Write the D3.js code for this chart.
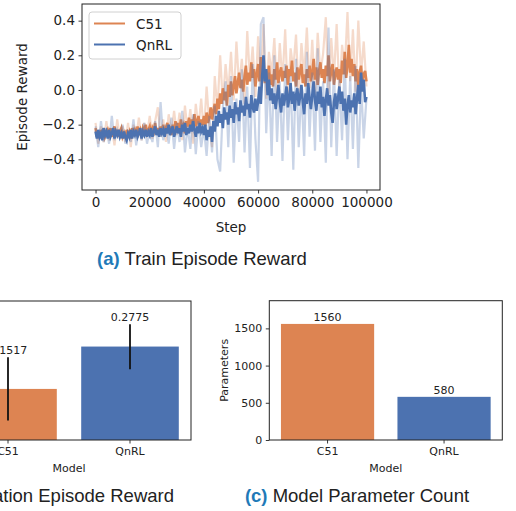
<!DOCTYPE html>
<html>
<head>
<meta charset="utf-8">
<script src="https://cdn.jsdelivr.net/npm/d3@7/dist/d3.min.js"></script>
<style>
  html, body { margin: 0; padding: 0; background: #fff; }
  svg { display: block; }
  .mpl { font-family: "DejaVu Sans", sans-serif; fill: #222; }
  .cap { font-family: "Liberation Sans", Arial, sans-serif; fill: #222; }
</style>
</head>
<body>
<svg id="fig" width="516" height="511"></svg>
<script>
// ---- (a) training curves: fine steps for the running line, coarse for raw episodes
const stepsFine = d3.range(0, 100001, 500);
const stepsRaw = d3.range(0, 100001, 1000);

const c51Line = [
  -0.22,-0.27,-0.24,-0.28,-0.23,-0.26,-0.22,-0.27,-0.25,-0.23,
  -0.26,-0.22,-0.27,-0.24,-0.21,-0.26,-0.23,-0.27,-0.24,-0.22,
  -0.27,-0.25,-0.28,-0.23,-0.26,-0.24,-0.28,-0.22,-0.25,-0.23,
  -0.26,-0.21,-0.25,-0.23,-0.27,-0.22,-0.24,-0.20,-0.25,-0.23,
  -0.21,-0.26,-0.22,-0.24,-0.19,-0.25,-0.22,-0.26,-0.21,-0.24,
  -0.20,-0.25,-0.22,-0.19,-0.24,-0.21,-0.26,-0.20,-0.23,-0.18,
  -0.23,-0.19,-0.24,-0.17,-0.22,-0.20,-0.25,-0.18,-0.21,-0.16,
  -0.22,-0.17,-0.20,-0.14,-0.21,-0.18,-0.15,-0.22,-0.17,-0.20,
  -0.15,-0.21,-0.13,-0.19,-0.16,-0.10,-0.17,-0.12,-0.08,-0.14,
  -0.05,-0.11,-0.02,-0.08,0.01,-0.06,-0.01,-0.09,0.03,-0.04,
  0.05,-0.03,0.02,0.08,-0.02,0.04,0.10,0.01,0.06,-0.01,
  0.08,0.14,0.03,0.10,0.05,0.16,0.07,0.12,0.02,0.09,
  0.15,0.05,0.19,0.08,0.13,0.04,0.11,0.06,0.14,0.03,
  0.09,0.02,0.12,0.06,0.16,0.04,0.10,0.13,0.05,0.11,
  0.07,0.14,0.03,0.12,0.08,0.17,0.05,0.10,0.02,0.13,
  0.06,0.11,0.15,0.04,0.09,0.02,0.12,0.07,0.14,0.05,
  0.10,0.18,0.06,0.13,0.03,0.11,0.16,0.07,0.12,0.04,
  0.14,0.08,0.20,0.05,0.11,0.15,0.03,0.09,0.13,0.06,
  0.12,0.04,0.17,0.09,0.22,0.07,0.14,0.26,0.10,0.18,
  0.08,0.15,0.05,0.12,0.03,0.10,0.14,0.04,0.09,0.11,
  0.05
];

const qnrlLine = [
  -0.24,-0.28,-0.23,-0.27,-0.25,-0.29,-0.22,-0.26,-0.24,-0.28,
  -0.23,-0.27,-0.25,-0.22,-0.28,-0.24,-0.26,-0.23,-0.27,-0.25,
  -0.28,-0.24,-0.27,-0.29,-0.25,-0.27,-0.23,-0.28,-0.24,-0.26,
  -0.23,-0.27,-0.25,-0.22,-0.28,-0.24,-0.26,-0.23,-0.27,-0.24,
  -0.26,-0.22,-0.27,-0.24,-0.21,-0.26,-0.23,-0.27,-0.22,-0.25,
  -0.23,-0.27,-0.22,-0.25,-0.20,-0.26,-0.23,-0.21,-0.27,-0.24,
  -0.21,-0.25,-0.22,-0.27,-0.20,-0.24,-0.19,-0.26,-0.22,-0.25,
  -0.20,-0.24,-0.18,-0.23,-0.27,-0.21,-0.25,-0.19,-0.24,-0.22,
  -0.26,-0.20,-0.29,-0.23,-0.27,-0.21,-0.30,-0.18,-0.24,-0.15,
  -0.21,-0.12,-0.19,-0.14,-0.22,-0.10,-0.17,-0.13,-0.20,-0.09,
  -0.16,-0.11,-0.19,-0.07,-0.14,-0.10,-0.18,-0.06,-0.13,-0.09,
  -0.15,-0.04,-0.11,-0.08,-0.16,-0.03,-0.10,-0.13,-0.05,-0.12,
  -0.07,0.02,-0.08,0.08,0.20,0.05,0.12,-0.03,0.06,-0.06,
  0.01,-0.08,-0.02,-0.11,-0.04,0.03,-0.07,-0.13,-0.02,-0.09,
  -0.04,0.02,-0.10,-0.05,0.04,-0.08,-0.01,-0.12,-0.03,0.01,
  -0.09,-0.04,0.03,-0.07,-0.14,-0.02,-0.08,0.04,-0.05,-0.11,
  -0.03,0.05,-0.06,-0.12,-0.01,-0.08,0.02,-0.10,-0.04,-0.15,
  -0.06,0.01,-0.09,-0.03,-0.13,-0.19,-0.07,-0.02,-0.11,-0.05,
  0.02,-0.08,-0.01,-0.12,-0.05,-0.20,-0.09,-0.03,-0.13,-0.06,
  -0.10,-0.02,-0.14,-0.05,0.03,-0.08,0.10,-0.01,0.06,-0.07,
  -0.04
];

const c51Raw = [
  -0.19,-0.31,-0.21,-0.30,-0.18,-0.29,-0.22,-0.32,-0.17,-0.28,
  -0.21,-0.30,-0.19,-0.33,-0.20,-0.27,-0.16,-0.29,-0.19,-0.26,
  -0.15,-0.28,-0.18,-0.10,-0.27,-0.17,-0.30,-0.14,-0.25,-0.12,
  -0.26,-0.13,-0.29,-0.09,-0.24,-0.11,-0.31,-0.08,-0.22,-0.05,
  -0.25,0.02,-0.20,-0.33,0.08,-0.12,0.20,-0.08,0.15,-0.02,
  0.22,-0.06,0.28,0.02,0.18,-0.08,0.34,0.06,0.25,-0.04,
  0.31,0.02,0.38,-0.05,0.22,0.09,0.30,-0.02,0.27,0.05,
  0.35,-0.06,0.24,0.12,0.32,-0.03,0.27,0.08,0.36,0.01,
  0.29,-0.04,0.33,0.10,0.21,0.42,-0.02,0.30,0.07,0.38,
  -0.03,0.26,0.12,0.45,0.05,0.35,-0.01,0.40,0.09,0.28,
  0.02
];

const qnrlRaw = [
  -0.21,-0.33,-0.18,-0.30,-0.22,-0.31,-0.15,-0.29,-0.23,-0.28,
  -0.20,-0.31,-0.24,-0.30,-0.17,-0.32,-0.22,-0.29,-0.19,-0.31,
  -0.23,-0.30,-0.18,-0.33,-0.07,-0.29,-0.20,-0.31,-0.16,-0.34,
  -0.19,-0.30,-0.12,-0.36,-0.21,-0.34,-0.14,-0.37,-0.18,-0.33,
  -0.22,-0.38,-0.15,-0.36,-0.09,-0.40,-0.47,-0.10,0.05,-0.33,
  0.08,-0.42,-0.05,-0.30,0.12,-0.36,0.02,-0.45,0.15,-0.28,
  -0.53,0.38,0.42,-0.25,0.10,-0.38,0.20,-0.30,0.05,-0.41,
  0.15,-0.29,0.08,-0.46,0.18,-0.33,0.02,-0.38,0.22,-0.27,
  0.10,-0.35,0.24,-0.30,0.05,-0.42,0.36,-0.33,0.12,-0.38,
  0.06,-0.29,0.18,-0.40,0.08,-0.34,0.14,-0.45,0.03,-0.28,
  -0.05
];

const xTicks = [0, 20000, 40000, 60000, 80000, 100000];
const yTicks = [-0.4, -0.2, 0.0, 0.2, 0.4];

// ---- (b) evaluation reward: means with confidence bounds
const models = ["C51", "QnRL"];
const evalMean = [0.1517, 0.2775];
const evalLow = [0.058, 0.210];
const evalHigh = [0.246, 0.344];

// ---- (c) parameter count
const paramCount = [1560, 580];
const paramTicks = [0, 500, 1000, 1500];

const colors = ["#DD8452", "#4C72B0"];

const svg = d3.select("#fig");
const ink = "#222";

// ===================== (a) line chart =====================
const A = { left: 82, right: 380, top: 4, bottom: 190 };
const xA = d3.scaleLinear().domain([-5000, 105000]).range([A.left, A.right]);
const yA = d3.scaleLinear().domain([-0.577, 0.496]).range([A.bottom, A.top]);

svg.append("clipPath").attr("id", "clipA").append("rect")
  .attr("x", A.left).attr("y", A.top).attr("width", A.right - A.left).attr("height", A.bottom - A.top);

const plotA = svg.append("g").attr("clip-path", "url(#clipA)");
const lineFine = d3.line().x((d, i) => xA(stepsFine[i])).y(d => yA(d));
const lineRaw = d3.line().x((d, i) => xA(stepsRaw[i])).y(d => yA(d));

plotA.append("path").datum(c51Raw).attr("d", lineRaw)
  .attr("fill", "none").attr("stroke", colors[0]).attr("stroke-opacity", 0.3).attr("stroke-width", 2.2);
plotA.append("path").datum(c51Line).attr("d", lineFine)
  .attr("fill", "none").attr("stroke", colors[0]).attr("stroke-width", 2.6);
plotA.append("path").datum(qnrlRaw).attr("d", lineRaw)
  .attr("fill", "none").attr("stroke", colors[1]).attr("stroke-opacity", 0.3).attr("stroke-width", 2.2);
plotA.append("path").datum(qnrlLine).attr("d", lineFine)
  .attr("fill", "none").attr("stroke", colors[1]).attr("stroke-width", 2.6);

const fmtMinus = s => s.replace("-", "\u2212");

const axXA = svg.append("g").attr("transform", `translate(0,${A.bottom})`)
  .call(d3.axisBottom(xA).tickValues(xTicks).tickFormat(d3.format("d")).tickSizeOuter(0).tickSize(3.5).tickPadding(3.5));
const axYA = svg.append("g").attr("transform", `translate(${A.left},0)`)
  .call(d3.axisLeft(yA).tickValues(yTicks).tickFormat(d => fmtMinus(d3.format(".1f")(d))).tickSizeOuter(0).tickSize(3.5).tickPadding(3.5));
[axXA, axYA].forEach(g => {
  g.select(".domain").remove();
  g.selectAll("line").attr("stroke", ink).attr("stroke-width", 0.9);
  g.selectAll("text").attr("class", "mpl").attr("font-size", 13.5).attr("fill", ink);
});
axXA.selectAll("text").attr("dy", "0.75em");

svg.append("rect").attr("x", A.left).attr("y", A.top)
  .attr("width", A.right - A.left).attr("height", A.bottom - A.top)
  .attr("fill", "none").attr("stroke", ink).attr("stroke-width", 1);

svg.append("text").attr("class", "mpl").attr("font-size", 13.5)
  .attr("x", (A.left + A.right) / 2).attr("y", 232).attr("text-anchor", "middle").text("Step");
svg.append("text").attr("class", "mpl").attr("font-size", 13.5)
  .attr("transform", `translate(27,${(A.top + A.bottom) / 2}) rotate(-90)`)
  .attr("text-anchor", "middle").text("Episode Reward");

// legend
const leg = svg.append("g");
leg.append("rect").attr("x", 89).attr("y", 12).attr("width", 92).attr("height", 47).attr("rx", 3)
  .attr("fill", "#fff").attr("fill-opacity", 0.8).attr("stroke", "#d0d0d0").attr("stroke-width", 1);
models.forEach((m, i) => {
  const yy = 23.5 + i * 21;
  leg.append("line").attr("x1", 94).attr("x2", 125).attr("y1", yy).attr("y2", yy)
    .attr("stroke", colors[i]).attr("stroke-width", 2);
  leg.append("text").attr("class", "mpl").attr("font-size", 13.5)
    .attr("x", 136).attr("y", yy + 5).text(m);
});

// ===================== bar chart helper =====================
function barChart(box, values, low, high, yMax, opts) {
  const x = d3.scaleBand().domain(models).range([box.left, box.right]).paddingInner(0.2).paddingOuter(0.1);
  const y = d3.scaleLinear().domain([0, yMax]).range([box.bottom, box.top]);
  const g = svg.append("g");
  g.selectAll("rect.bar").data(values).join("rect").attr("class", "bar")
    .attr("x", (d, i) => x(models[i])).attr("width", x.bandwidth())
    .attr("y", d => y(d)).attr("height", d => box.bottom - y(d))
    .attr("fill", (d, i) => colors[i]);
  if (low) {
    g.selectAll("line.err").data(values).join("line").attr("class", "err")
      .attr("x1", (d, i) => x(models[i]) + x.bandwidth() / 2)
      .attr("x2", (d, i) => x(models[i]) + x.bandwidth() / 2)
      .attr("y1", (d, i) => y(low[i])).attr("y2", (d, i) => y(high[i]))
      .attr("stroke", "#111").attr("stroke-width", 1.8);
  }
  g.selectAll("text.val").data(values).join("text").attr("class", "val mpl")
    .attr("font-size", 11).attr("text-anchor", "middle")
    .attr("x", (d, i) => x(models[i]) + x.bandwidth() / 2)
    .attr("y", (d, i) => y(high ? high[i] : d) - 2.8)
    .text(opts.fmt);

  const ax = svg.append("g").attr("transform", `translate(0,${box.bottom})`)
    .call(d3.axisBottom(x).tickSizeOuter(0).tickSize(3.5).tickPadding(3.5));
  ax.select(".domain").remove();
  ax.selectAll("line").attr("stroke", ink).attr("stroke-width", 0.9);
  ax.selectAll("text").attr("class", "mpl").attr("font-size", 11).attr("dy", "0.75em");

  if (opts.yTicks) {
    const ay = svg.append("g").attr("transform", `translate(${box.left},0)`)
      .call(d3.axisLeft(y).tickValues(opts.yTicks).tickSizeOuter(0).tickSize(3.5).tickPadding(3.5).tickFormat(d3.format("d")));
    ay.select(".domain").remove();
    ay.selectAll("line").attr("stroke", ink).attr("stroke-width", 0.9);
    ay.selectAll("text").attr("class", "mpl").attr("font-size", 11);
  }
  svg.append("rect").attr("x", box.left).attr("y", box.top)
    .attr("width", box.right - box.left).attr("height", box.bottom - box.top)
    .attr("fill", "none").attr("stroke", ink).attr("stroke-width", 1);

  svg.append("text").attr("class", "mpl").attr("font-size", 11)
    .attr("x", (box.left + box.right) / 2).attr("y", 471.5).attr("text-anchor", "middle").text("Model");
  if (opts.yLabel) {
    svg.append("text").attr("class", "mpl").attr("font-size", 11)
      .attr("transform", `translate(${opts.yLabelX},${(box.top + box.bottom) / 2}) rotate(-90)`)
      .attr("text-anchor", "middle").text(opts.yLabel);
  }
}

// (b) evaluation reward
barChart({ left: -53, right: 191, top: 301, bottom: 440 }, evalMean, evalLow, evalHigh,
  1.2 * d3.max(evalHigh), { fmt: d => d3.format(".4f")(d) });

// (c) parameter count
barChart({ left: 269.3, right: 502.3, top: 300.7, bottom: 440 }, paramCount, null, null,
  1.2 * d3.max(paramCount), { fmt: d => d3.format("d")(d), yTicks: paramTicks, yLabel: "Parameters", yLabelX: 228 });

// ===================== captions =====================
function caption(x, y, anchor, tag, title) {
  const t = svg.append("text").attr("class", "cap").attr("font-size", 18.5)
    .attr("x", x).attr("y", y).attr("text-anchor", anchor);
  t.append("tspan").attr("font-weight", "bold").attr("fill", "#1f7ab8").text(tag);
  t.append("tspan").text(" " + title);
}
caption(202, 265, "middle", "(a)", "Train Episode Reward");
caption(174, 502, "end", "(b)", "Evaluation Episode Reward");
caption(357, 502, "middle", "(c)", "Model Parameter Count");
</script>
</body>
</html>
